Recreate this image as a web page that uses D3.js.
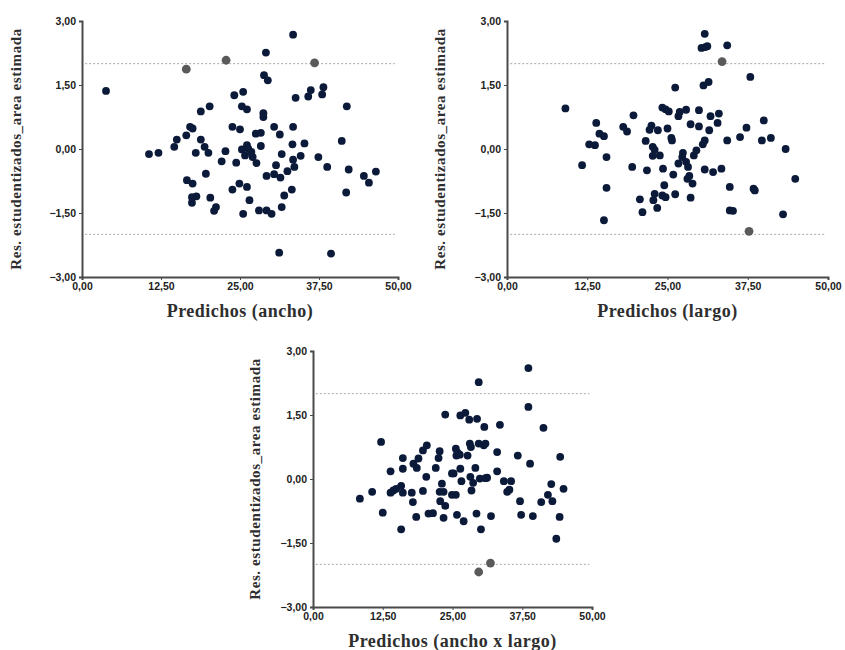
<!DOCTYPE html>
<html>
<head>
<meta charset="utf-8">
<script src="https://cdn.jsdelivr.net/npm/d3@7"></script>
<style>
  body { margin: 0; background: #fff; }
  svg { display: block; }
  .tick text { font-family: "Liberation Sans", Arial, sans-serif; font-weight: bold; font-size: 10.5px; fill: #222; }
  .axtitle { font-family: "Liberation Serif", "Times New Roman", serif; font-weight: bold; fill: #2e2e2e; }
</style>
</head>
<body>
<svg id="chart" width="845" height="650"></svg>
<script>
// tick labels (comma decimals, as in the original)
const xTicks = [0, 12.5, 25, 37.5, 50];
const yTicks = [-3, -1.5, 0, 1.5, 3];
const refLines = [-2, 2];

// panel 1: Predichos (ancho)
const anchoX = [3.8, 29.1, 28.8, 29.4, 24.1, 25.5, 25.3, 26.1, 20.2, 18.8, 33.8, 35.8, 36.2, 38.2, 38.0, 41.9,
  28.7, 28.7, 17.1, 17.5, 16.5, 15.0, 14.6, 18.8, 19.4, 20.0, 18.0, 10.6, 12.1, 23.8, 25.0, 27.5, 28.3, 30.4,
  31.3, 33.4, 33.3, 35.2, 41.1, 22.7, 22.1, 24.4, 25.3, 26.1, 26.3, 26.8, 27.0, 27.6, 28.3, 25.8, 31.6, 33.4,
  34.6, 33.6, 30.7, 32.5, 37.4, 38.8, 42.2, 19.6, 29.2, 30.4, 31.4, 44.6, 45.4, 46.5, 16.6, 17.5, 24.9, 26.1,
  23.8, 33.2, 41.8, 17.4, 18.1, 20.3, 17.4, 32.0, 26.5, 21.2, 20.9, 25.5, 28.0, 29.2, 30.0, 31.6, 31.2, 39.4, 33.4];
const anchoY = [1.36, 2.26, 1.73, 1.61, 1.26, 1.34, 1.00, 0.93, 1.00, 0.88, 1.20, 1.23, 1.38, 1.45, 1.28, 1.00,
  0.84, 0.75, 0.52, 0.48, 0.32, 0.22, 0.05, 0.22, 0.05, -0.09, -0.09, -0.12, -0.09, 0.52, 0.46, 0.36, 0.38, 0.52,
  0.34, 0.52, 0.11, 0.13, 0.19, -0.05, -0.29, -0.32, -0.01, 0.09, 0.01, -0.07, -0.19, -0.33, 0.07, -0.15, -0.12, -0.25,
  -0.16, -0.42, -0.38, -0.52, -0.19, -0.42, -0.48, -0.58, -0.63, -0.59, -0.67, -0.63, -0.79, -0.53, -0.73, -0.81, -0.81, -0.89,
  -0.95, -0.95, -1.02, -1.13, -1.11, -1.14, -1.26, -1.09, -1.20, -1.36, -1.45, -1.52, -1.44, -1.44, -1.52, -1.36, -2.43, -2.45, 2.68];
const anchoOutX = [16.5, 22.8, 36.8];
const anchoOutY = [1.87, 2.08, 2.02];

// panel 2: Predichos (largo)
const largoX = [9.1, 11.7, 13.9, 12.8, 13.7, 14.4, 15.1, 15.5, 15.5, 15.1, 18.1, 18.7, 19.7, 19.5, 20.7, 21.1,
  21.6, 21.8, 22.5, 22.2, 22.7, 23.0, 22.7, 23.8, 23.5, 24.3, 23.0, 22.8, 23.4, 24.2, 24.7, 24.5, 25.0, 24.2,
  24.7, 25.2, 25.6, 25.7, 25.9, 26.2, 26.2, 26.7, 26.9, 27.9, 27.4, 27.3, 26.7, 27.9, 28.2, 28.4, 28.1, 28.6,
  28.6, 28.9, 29.1, 29.5, 29.9, 29.9, 30.3, 30.9, 31.2, 30.8, 30.6, 31.4, 30.8, 30.5, 30.8, 31.5, 31.7, 32.1,
  32.8, 33.0, 33.4, 34.3, 34.3, 34.7, 34.7, 35.2, 36.3, 37.3, 37.9, 38.4, 38.6, 39.7, 40.0, 41.1, 43.4, 43.0, 44.9];
const largoY = [0.95, -0.38, 0.61, 0.11, 0.09, 0.36, 0.30, -0.19, -0.91, -1.67, 0.52, 0.41, 0.79, -0.42, -1.18, -1.48,
  0.19, -0.50, 0.55, 0.45, 0.05, -0.02, -0.16, -0.15, 0.44, -0.46, -1.05, -1.20, -1.38, -1.09, -1.13, -0.85, 0.48, 0.97,
  0.93, 0.88, 0.26, 0.20, -0.60, 1.44, -1.06, 0.77, 0.87, 0.92, -0.09, -0.19, -0.34, -0.30, -0.42, -0.63, -0.70, 0.58,
  -1.14, -0.81, -0.15, -0.03, 0.91, 0.53, 2.37, 2.39, 2.41, 2.70, 1.49, 1.57, 0.20, 0.11, -0.48, 0.44, 0.77, -0.54,
  0.61, 0.83, -0.46, 2.43, 0.20, -0.89, -1.44, -1.45, 0.28, 0.50, 1.69, -0.93, -0.97, 0.20, 0.67, 0.26, 0.00, -1.53, -0.70];
const largoOutX = [33.5, 37.7];
const largoOutY = [2.05, -1.93];

// panel 3: Predichos (ancho x largo)
const axlX = [8.4, 10.6, 12.2, 12.5, 13.9, 13.9, 14.4, 14.9, 15.8, 16.1, 16.1, 16.1, 15.8, 17.7, 17.9, 18.0,
  18.6, 18.9, 18.5, 19.7, 20.4, 19.7, 20.3, 20.7, 21.5, 22.0, 22.5, 22.7, 22.7, 22.8, 23.4, 23.1, 23.7, 23.4,
  23.7, 24.9, 25.2, 24.9, 25.6, 25.6, 25.7, 25.9, 26.3, 25.8, 26.4, 26.6, 26.4, 27.3, 27.0, 27.7, 28.0, 28.1,
  28.3, 28.2, 28.4, 28.7, 29.1, 29.4, 29.3, 29.7, 29.7, 30.1, 30.6, 30.9, 29.9, 30.9, 31.2, 30.7, 31.9, 33.0,
  33.0, 33.5, 34.2, 34.8, 35.2, 35.5, 36.7, 37.1, 37.3, 38.6, 38.6, 38.9, 39.4, 40.9, 41.3, 42.1, 42.7, 42.9,
  43.6, 44.2, 44.3, 44.9];
const axlY = [-0.46, -0.30, 0.87, -0.79, 0.18, -0.32, -0.27, -0.23, -0.16, -0.32, 0.49, 0.24, -1.18, -0.32, -0.54, 0.36,
  0.26, 0.48, -0.89, 0.67, 0.79, -0.28, 0.05, -0.81, -0.80, 0.26, 0.49, 0.65, -0.30, -0.52, -0.30, -0.11, -0.63, -0.91,
  1.51, 0.13, 0.13, -0.37, -0.37, 0.71, 0.55, 0.62, 0.57, -0.84, 0.24, -0.05, 1.49, 1.55, -0.99, 0.55, 1.39, 0.83,
  0.75, 0.05, -0.27, -0.09, 0.26, 1.41, -0.81, 2.27, 0.83, -1.18, 0.79, 0.83, 0.01, 0.02, 0.03, 1.22, -0.87, 0.63,
  0.18, 1.27, -0.05, -0.30, -0.25, -0.05, 0.55, -0.52, -0.84, 2.60, 1.69, 0.36, -0.87, -0.54, 1.20, -0.37, -0.12, -0.52,
  -1.40, -0.89, 0.52, -0.23];
const axlOutX = [29.7, 31.8];
const axlOutY = [-2.18, -1.97];

const yTitle = "Res. estudentizados_area estimada";
const fmt = v => d3.format(".2f")(v).replace(".", ",");
const svg = d3.select("#chart");

function drawPanel(p) {
  const x = d3.scaleLinear().domain([0, 50]).range([p.left, p.right]);
  const y = d3.scaleLinear().domain([-3, 3]).range([p.bottom, p.top]);
  const g = svg.append("g");

  // reference lines at +-2
  g.selectAll(".ref").data(refLines).enter().append("line")
    .attr("x1", x(0.5)).attr("x2", x(49.5))
    .attr("y1", d => y(d)).attr("y2", d => y(d))
    .attr("stroke", "#a8a8a8").attr("stroke-width", 1)
    .attr("stroke-dasharray", "2,2");

  // axes
  const xa = g.append("g").attr("transform", `translate(0,${p.bottom})`)
    .call(d3.axisBottom(x).tickValues(xTicks).tickFormat(fmt).tickSize(3).tickPadding(3));
  const ya = g.append("g").attr("transform", `translate(${p.left},0)`)
    .call(d3.axisLeft(y).tickValues(yTicks).tickFormat(fmt).tickSize(3).tickPadding(3));
  [xa, ya].forEach(a => {
    a.select(".domain").attr("stroke", "#4a4a4a").attr("stroke-width", 2);
    a.selectAll(".tick line").attr("stroke", "#4a4a4a");
  });

  // points
  g.selectAll(".pt").data(p.xs.map((v, i) => [v, p.ys[i]])).enter().append("circle")
    .attr("cx", d => x(d[0])).attr("cy", d => y(d[1]))
    .attr("r", 3.9).attr("fill", "#0c1a3a");
  g.selectAll(".out").data(p.ox.map((v, i) => [v, p.oy[i]])).enter().append("circle")
    .attr("cx", d => x(d[0])).attr("cy", d => y(d[1]))
    .attr("r", 4.4).attr("fill", "#5a5a5a");

  // titles
  g.append("text").attr("class", "axtitle")
    .attr("transform", `translate(${p.titleX},${(p.top + p.bottom) / 2}) rotate(-90)`)
    .attr("text-anchor", "middle").attr("dominant-baseline", "middle")
    .attr("font-size", 15).attr("letter-spacing", 0.6)
    .text(yTitle);
  g.append("text").attr("class", "axtitle")
    .attr("x", (p.left + p.right) / 2).attr("y", p.bottom + 36)
    .attr("text-anchor", "middle").attr("dominant-baseline", "middle")
    .attr("font-size", 18).attr("letter-spacing", 0.5)
    .text(p.xTitle);
}

drawPanel({ left: 82, right: 398, top: 21, bottom: 277, titleX: 18,
  xs: anchoX, ys: anchoY, ox: anchoOutX, oy: anchoOutY, xTitle: "Predichos (ancho)" });
drawPanel({ left: 507, right: 828, top: 21, bottom: 277, titleX: 442,
  xs: largoX, ys: largoY, ox: largoOutX, oy: largoOutY, xTitle: "Predichos (largo)" });
drawPanel({ left: 313, right: 592, top: 351, bottom: 607, titleX: 257,
  xs: axlX, ys: axlY, ox: axlOutX, oy: axlOutY, xTitle: "Predichos (ancho x largo)" });
</script>
</body>
</html>
